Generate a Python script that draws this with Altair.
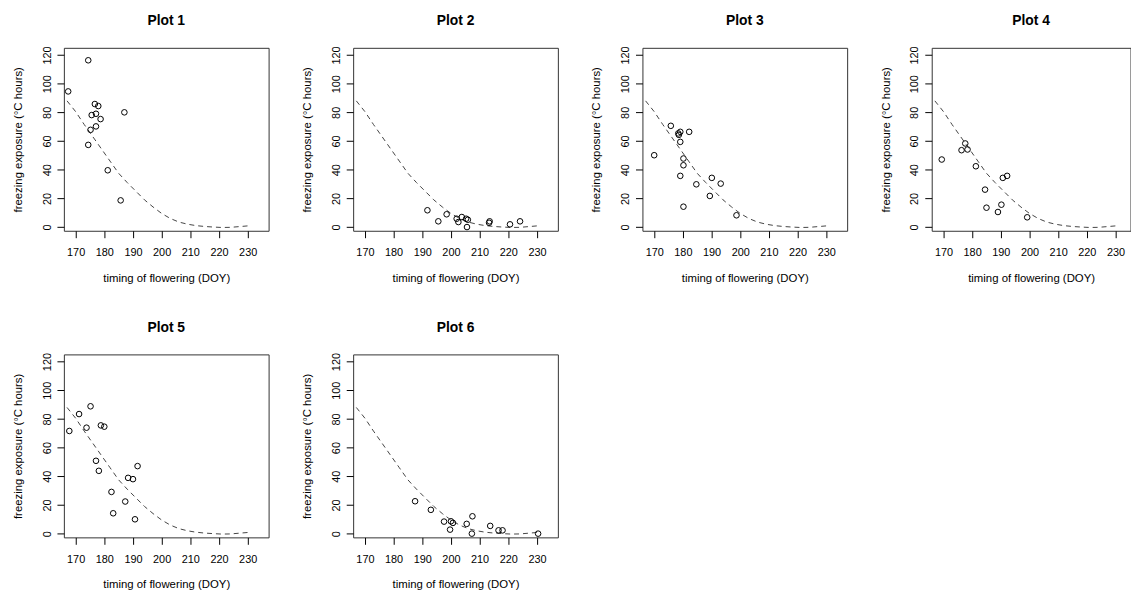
import altair as alt
import pandas as pd

# fitted curve (dashed), same in every panel
curve_doy = [167, 170, 173, 176, 179, 182, 185, 188, 191, 194, 197, 200, 203, 206, 209, 212, 215, 218, 221, 224, 227, 230, 231]
curve_fe = [88, 80.5, 71.5, 63, 54.5, 46, 37.5, 31, 25, 19, 14, 9.5, 6, 3.5, 2, 1, 0.4, 0, -0.3, -0.2, 0.3, 0.8, 1.0]

p1_doy = [167.4, 174.4, 176.7, 177.9, 175.6, 177.1, 178.7, 177.1, 175.2, 174.4, 187.0, 181.2, 185.7]
p1_fe = [94.6, 116.3, 85.8, 84.4, 78.1, 79.0, 75.3, 70.2, 67.8, 57.3, 80.0, 39.6, 18.6]

p2_doy = [191.8, 195.6, 198.5, 202.0, 202.6, 203.8, 205.3, 205.9, 205.6, 213.3, 213.5, 220.6, 224.1]
p2_fe = [11.7, 4.0, 8.9, 5.8, 3.5, 7.0, 5.8, 5.1, 0.0, 3.0, 4.0, 1.9, 4.0]

p3_doy = [170.0, 175.8, 178.4, 179.1, 178.6, 182.2, 179.1, 180.2, 180.2, 179.1, 180.2, 184.7, 190.1, 193.2, 189.4, 198.7]
p3_fe = [50.1, 70.6, 65.3, 66.4, 64.3, 66.4, 59.4, 47.8, 43.1, 35.7, 14.2, 29.8, 34.3, 30.3, 21.7, 8.2]

p4_doy = [169.4, 176.3, 177.6, 178.4, 181.3, 184.5, 185.0, 189.0, 190.2, 190.7, 192.2, 199.2]
p4_fe = [47.1, 53.6, 58.3, 54.1, 42.4, 26.1, 13.5, 10.5, 15.6, 34.3, 35.7, 6.8]

p5_doy = [167.8, 171.2, 173.8, 175.2, 178.8, 180.0, 177.1, 178.1, 182.5, 183.1, 187.3, 188.3, 190.0, 191.6, 190.7]
p5_fe = [71.6, 83.4, 73.9, 88.8, 75.5, 74.6, 50.8, 43.8, 29.1, 14.2, 22.4, 38.9, 38.0, 47.1, 10.0]

p6_doy = [187.5, 193.0, 197.6, 199.7, 200.0, 200.7, 205.5, 207.5, 207.3, 213.7, 216.6, 218.0, 230.4]
p6_fe = [22.6, 16.6, 8.4, 2.8, 8.6, 7.5, 6.8, 12.1, 0.0, 5.4, 2.3, 2.3, 0.0]

x_ticks = [170, 180, 190, 200, 210, 220, 230]
y_ticks = [0, 20, 40, 60, 80, 100, 120]

X_DOMAIN = [165.9, 237.3]
Y_DOMAIN = [-2.6, 125]
W, H = 207, 185
FONT = "Liberation Sans"
FRAME = "#333333"


def panel(i, doy, fe, width=W):
    pts = pd.DataFrame({"doy": doy, "fe": fe})
    cur = pd.DataFrame({"doy": curve_doy, "fe": curve_fe})
    xmax = X_DOMAIN[0] + width / W * (X_DOMAIN[1] - X_DOMAIN[0])
    x = alt.X("doy:Q", scale=alt.Scale(domain=[X_DOMAIN[0], xmax], nice=False, zero=False),
              axis=alt.Axis(values=x_ticks, title="timing of flowering (DOY)", labelFlush=False))
    y = alt.Y("fe:Q", scale=alt.Scale(domain=Y_DOMAIN, nice=False, zero=False),
              axis=alt.Axis(values=y_ticks, title="freezing exposure (°C hours)", labelAngle=-90,
                            labelAlign="center", labelBaseline="bottom", labelFlush=False))
    line = alt.Chart(cur).mark_line(strokeDash=[5, 4], color="#444444", strokeWidth=1, clip=True).encode(x=x, y=y)
    points = alt.Chart(pts).mark_point(shape="circle", filled=False, color="black", size=32,
                                       strokeWidth=1, opacity=1).encode(x=x, y=y)
    return alt.layer(line, points).properties(width=width, height=H, title=alt.TitleParams(f"Plot {i}"))


row1 = alt.hconcat(
    panel(1, p1_doy, p1_fe),
    panel(2, p2_doy, p2_fe),
    panel(3, p3_doy, p3_fe),
    panel(4, p4_doy, p4_fe, width=201),  # cut by the right edge of the picture
    spacing=31.5,
)
row2 = alt.hconcat(
    panel(5, p5_doy, p5_fe),
    panel(6, p6_doy, p6_fe),
    spacing=31.5,
)

chart = alt.vconcat(row1, row2, spacing=36).properties(
    padding={"left": 3.5, "top": 2, "right": 0, "bottom": 0}
).configure_view(
    stroke=FRAME, strokeWidth=1
).configure_axis(
    grid=False, domain=False, tickColor="black", tickSize=7, tickWidth=1,
    labelFont=FONT, labelFontSize=11, labelColor="black",
    titleFont=FONT, titleFontSize=11.5, titleFontWeight="normal", titleColor="black",
).configure_axisX(labelPadding=9, titlePadding=15).configure_axisY(labelPadding=5, titlePadding=18).configure_title(
    font=FONT, fontSize=14, fontWeight="bold", color="black", anchor="middle", frame="group", offset=18
)

chart.save("out.html", embed_options={"renderer": "svg", "actions": False})
